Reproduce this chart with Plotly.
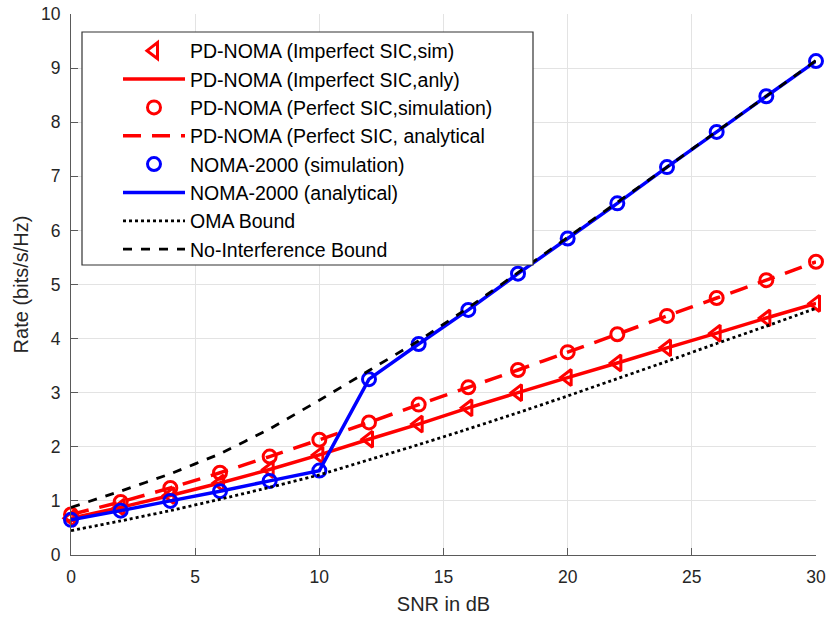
import plotly.graph_objects as go

snr_db = [0, 2, 4, 6, 8, 10, 12, 14, 16, 18, 20, 22, 24, 26, 28, 30]

pd_imperfect = [0.68, 0.88, 1.10, 1.33, 1.58, 1.85, 2.14, 2.42, 2.72, 3.00, 3.28, 3.55, 3.83, 4.10, 4.38, 4.65]
pd_perfect = [0.75, 0.98, 1.24, 1.52, 1.82, 2.13, 2.45, 2.78, 3.10, 3.42, 3.75, 4.08, 4.42, 4.75, 5.08, 5.42]
noma2000 = [0.65, 0.82, 1.00, 1.18, 1.37, 1.56, 3.25, 3.90, 4.53, 5.20, 5.85, 6.50, 7.17, 7.82, 8.48, 9.13]
oma_bound = [0.45, 0.63, 0.82, 1.03, 1.25, 1.48, 1.76, 2.04, 2.33, 2.63, 2.94, 3.26, 3.58, 3.91, 4.23, 4.56]
no_interf = [0.88, 1.18, 1.50, 1.87, 2.33, 2.86, 3.41, 3.96, 4.57, 5.22, 5.87, 6.52, 7.17, 7.83, 8.48, 9.14]

names = [
    "PD-NOMA (Imperfect SIC,sim)",
    "PD-NOMA (Imperfect SIC,anly)",
    "PD-NOMA (Perfect SIC,simulation)",
    "PD-NOMA (Perfect SIC, analytical",
    "NOMA-2000 (simulation)",
    "NOMA-2000 (analytical)",
    "OMA Bound",
    "No-Interference Bound",
]

RED = "#ff0000"
BLUE = "#0000ff"
FONT = "Liberation Sans, Arial, Helvetica, sans-serif"

fig = go.Figure()


def add(i, y, mode, color, dash="solid", width=3.5, symbol=None, size=13):
    kw = dict(x=snr_db, y=y, mode=mode, name=names[i], legendgroup=f"g{i}",
              cliponaxis=False)
    if "lines" in mode:
        kw["line"] = dict(color=color, width=width, dash=dash, shape="spline",
                          smoothing=0.0)
    if "markers" in mode:
        kw["marker"] = dict(symbol=symbol, size=size, color=color,
                            line=dict(color=color, width=3))
    fig.add_trace(go.Scatter(**kw))


add(0, pd_imperfect, "markers", RED, symbol="triangle-left-open", size=14)
add(1, pd_imperfect, "lines", RED)
add(2, pd_perfect, "markers", RED, symbol="circle-open")
add(3, pd_perfect, "lines", RED, dash="18px,11px")
add(4, noma2000, "markers", BLUE, symbol="circle-open")
add(5, noma2000, "lines", BLUE)
add(6, oma_bound, "lines", "#000000", dash="dot", width=2.8)
add(7, no_interf, "lines", "#000000", dash="dash", width=2.8)

axis_common = dict(
    showgrid=True, gridcolor="#e3e3e3", gridwidth=1,
    showline=True, linecolor="#5a5a5a", linewidth=1.2,
    ticks="inside", ticklen=7, tickcolor="#5a5a5a",
    tickfont=dict(family=FONT, size=17.5, color="#262626"),
    zeroline=False, mirror=False, automargin=False,
)

L, R, T, B = 71, 14, 14, 62
W, H = 830, 617
pw, ph = W - L - R, H - T - B


def px(xp):
    return (xp - L) / pw


def py(yp):
    return (H - B - yp) / ph


fig.update_layout(
    width=W, height=H,
    margin=dict(l=L, r=R, t=T, b=B, autoexpand=False),
    paper_bgcolor="white", plot_bgcolor="white",
    font=dict(family=FONT, color="#262626"),
    xaxis=dict(range=[0, 30], tickvals=[0, 5, 10, 15, 20, 25, 30],
               ticklabelstandoff=6,
               title=dict(text="SNR in dB", font=dict(size=20), standoff=10),
               **axis_common),
    yaxis=dict(range=[0, 10], tickvals=list(range(0, 11)),
               ticklabelstandoff=6,
               title=dict(text="Rate (bits/s/Hz)", font=dict(size=20), standoff=6),
               **axis_common),
    legend=dict(
        x=px(118), y=py(31.5), xanchor="left", yanchor="top",
        bgcolor="rgba(0,0,0,0)", borderwidth=0,
        font=dict(size=19.5, color="#000000", family=FONT),
        itemwidth=62, tracegroupgap=0, traceorder="grouped",
    ),
    showlegend=True,
    shapes=[dict(type="rect", xref="paper", yref="paper",
                 x0=px(82), x1=px(533), y0=py(265), y1=py(32),
                 fillcolor="white", line=dict(color="#333333", width=1.2),
                 layer="above")],
)

fig.write_html("out.html")
